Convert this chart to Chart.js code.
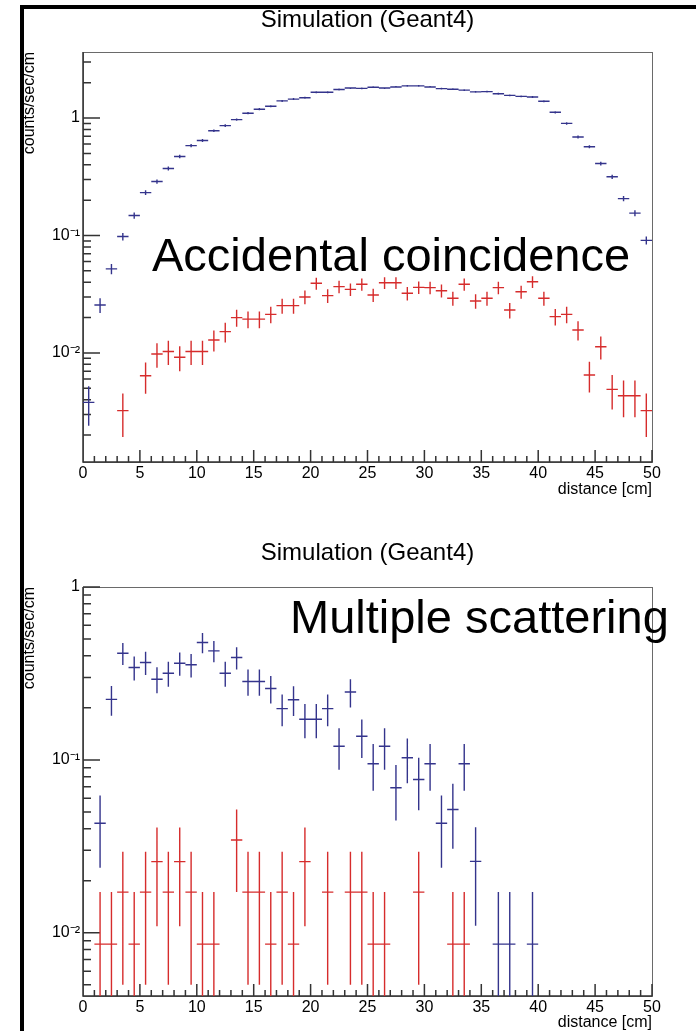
<!DOCTYPE html>
<html>
<head>
<meta charset="utf-8">
<title>Simulation (Geant4)</title>
<script src="https://cdn.jsdelivr.net/npm/chart.js@4.4.1/dist/chart.umd.min.js"></script>
<style>
  html, body { margin: 0; padding: 0; background: #fff; overflow: hidden; }
  #frame { position: absolute; left: 20px; top: 5px; width: 700px; height: 1100px;
           border-left: 4px solid #000; border-top: 4px solid #000; }
  canvas { position: absolute; left: 0; }
  #topChart { top: 0; }
  #bottomChart { top: 500px; }
</style>
</head>
<body>
<div id="frame"></div>
<canvas id="topChart" width="696" height="500"></canvas>
<canvas id="bottomChart" width="696" height="531"></canvas>
<script>
Chart.defaults.font.family = '"Liberation Sans", Arial, Helvetica, sans-serif';
Chart.defaults.color = '#000';

// bin centres (1 cm bins from 0 to 50 cm)
var binCenters = [0.5, 1.5, 2.5, 3.5, 4.5, 5.5, 6.5, 7.5, 8.5, 9.5,
  10.5, 11.5, 12.5, 13.5, 14.5, 15.5, 16.5, 17.5, 18.5, 19.5,
  20.5, 21.5, 22.5, 23.5, 24.5, 25.5, 26.5, 27.5, 28.5, 29.5,
  30.5, 31.5, 32.5, 33.5, 34.5, 35.5, 36.5, 37.5, 38.5, 39.5,
  40.5, 41.5, 42.5, 43.5, 44.5, 45.5, 46.5, 47.5, 48.5, 49.5];
var binWidth = 1;
var xTicks = [0, 5, 10, 15, 20, 25, 30, 35, 40, 45, 50];

// top panel: accidental coincidence
var accBlue = [0.0038, 0.0256, 0.052, 0.098, 0.148, 0.232, 0.288, 0.372, 0.47, 0.583,
  0.644, 0.78, 0.862, 0.97, 1.10, 1.19, 1.26, 1.40, 1.45, 1.49,
  1.66, 1.66, 1.75, 1.80, 1.79, 1.83, 1.80, 1.84, 1.88, 1.88,
  1.84, 1.78, 1.76, 1.73, 1.67, 1.68, 1.61, 1.56, 1.53, 1.51,
  1.39, 1.12, 0.90, 0.69, 0.57, 0.41, 0.316, 0.206, 0.155, 0.091];
var accBlueErr = [0.0014, 0.0037, 0.0053, 0.0073, 0.0089, 0.0112, 0.0125, 0.0142, 0.0159, 0.0177,
  0.0186, 0.0205, 0.0216, 0.0229, 0.0244, 0.0253, 0.0261, 0.0275, 0.028, 0.0284,
  0.030, 0.030, 0.0307, 0.0312, 0.0311, 0.0314, 0.0312, 0.0315, 0.0319, 0.0319,
  0.0315, 0.031, 0.0308, 0.0306, 0.030, 0.0301, 0.0295, 0.029, 0.0287, 0.0286,
  0.0274, 0.0246, 0.022, 0.0193, 0.0175, 0.0149, 0.0131, 0.0105, 0.0092, 0.007];
var accRed = [null, null, null, 0.00323, null, 0.0064, 0.0098, 0.0103, 0.0092, 0.0103,
  0.0103, 0.0129, 0.0152, 0.020, 0.0194, 0.0194, 0.0213, 0.0253, 0.0253, 0.030,
  0.0392, 0.0308, 0.0367, 0.0348, 0.0385, 0.0312, 0.0396, 0.0396, 0.0322, 0.0362,
  0.036, 0.0339, 0.0292, 0.0385, 0.0277, 0.0292, 0.036, 0.0232, 0.0332, 0.0404,
  0.0292, 0.0204, 0.0213, 0.0157, 0.0065, 0.0113, 0.0049, 0.00433, 0.00433, 0.00323];
var accRedErr = [null, null, null, 0.0013, null, 0.0019, 0.0023, 0.0024, 0.0022, 0.0024,
  0.0024, 0.0026, 0.0029, 0.0033, 0.0032, 0.0032, 0.0034, 0.0037, 0.0037, 0.004,
  0.0046, 0.0041, 0.0045, 0.0043, 0.0046, 0.0041, 0.0046, 0.0046, 0.0042, 0.0044,
  0.0044, 0.0043, 0.004, 0.0046, 0.0039, 0.004, 0.0044, 0.0035, 0.0042, 0.0047,
  0.004, 0.0033, 0.0034, 0.0029, 0.0019, 0.0025, 0.0016, 0.0015, 0.0015, 0.0013];

// bottom panel: multiple scattering
var msBlue = [null, 0.043, 0.224, 0.414, 0.342, 0.366, 0.293, 0.317, 0.362, 0.355,
  0.478, 0.427, 0.317, 0.391, 0.284, 0.284, 0.259, 0.198, 0.223, 0.172,
  0.172, 0.198, 0.120, 0.247, 0.137, 0.095, 0.120, 0.069, 0.103, 0.077,
  0.095, 0.043, 0.0517, 0.095, 0.0259, null, 0.0086, 0.0086, null, 0.0086,
  null, null, null, null, null, null, null, null, null, null];
var msBlueErr = [null, 0.0192, 0.0439, 0.0596, 0.0544, 0.0564, 0.0501, 0.0523, 0.0557, 0.0551,
  0.0643, 0.0604, 0.0523, 0.0577, 0.0494, 0.0494, 0.0471, 0.0412, 0.0438, 0.0385,
  0.0385, 0.0412, 0.0322, 0.0461, 0.0343, 0.0286, 0.0322, 0.0244, 0.0298, 0.0258,
  0.0286, 0.0192, 0.0211, 0.0286, 0.0149, null, 0.0086, 0.0086, null, 0.0086,
  null, null, null, null, null, null, null, null, null, null];
var msRed = [null, 0.0086, 0.0086, 0.0172, 0.0086, 0.0172, 0.0258, 0.0172, 0.0258, 0.0172,
  0.0086, 0.0086, null, 0.0344, 0.0172, 0.0172, 0.0086, 0.0172, 0.0086, 0.0258,
  null, 0.0172, null, 0.0172, 0.0172, 0.0086, 0.0086, null, null, 0.0172,
  null, null, 0.0086, 0.0086, null, null, null, null, null, null,
  null, null, null, null, null, null, null, null, null, null];
var msRedErr = [null, 0.0086, 0.0086, 0.0122, 0.0086, 0.0122, 0.0149, 0.0122, 0.0149, 0.0122,
  0.0086, 0.0086, null, 0.0172, 0.0122, 0.0122, 0.0086, 0.0122, 0.0086, 0.0149,
  null, 0.0122, null, 0.0122, 0.0122, 0.0086, 0.0086, null, null, 0.0122,
  null, null, 0.0086, 0.0086, null, null, null, null, null, null,
  null, null, null, null, null, null, null, null, null, null];

var yTicks = [0.01, 0.1, 1];
var yTickLabels = ['10\u207B\u00B2', '10\u207B\u00B9', '1'];

var blueColor = '#34348c';
var redColor = '#d62c2c';

function points(values, errors) {
  var out = [];
  binCenters.forEach(function (x, i) {
    if (values[i] != null) out.push({ x: x, y: values[i], err: errors[i] });
  });
  return out;
}

// ROOT style frame with inward ticks
var framePlugin = {
  id: 'rootFrame',
  beforeDatasetsDraw: function (chart) {
    var ctx = chart.ctx, a = chart.chartArea, xs = chart.scales.x, ys = chart.scales.y;
    ctx.save();
    ctx.strokeStyle = '#6a6a6a';
    ctx.lineWidth = 1;
    ctx.strokeRect(Math.round(a.left) + 0.5, Math.round(a.top) + 0.5, a.right - a.left, a.bottom - a.top);
    ctx.strokeStyle = '#333';
    ctx.lineWidth = 1.5;
    ctx.beginPath();
    ctx.moveTo(a.left, a.top); ctx.lineTo(a.left, a.bottom); ctx.lineTo(a.right, a.bottom);
    for (var v = xs.min; v <= xs.max; v += 1) {
      var px = xs.getPixelForValue(v);
      var len = v % 5 === 0 ? 12 : 6;
      ctx.moveTo(px, a.bottom); ctx.lineTo(px, a.bottom - len);
    }
    var d0 = Math.floor(Math.log10(ys.min)), d1 = Math.ceil(Math.log10(ys.max));
    for (var d = d0; d <= d1; d++) {
      for (var m = 1; m < 10; m++) {
        var val = m * Math.pow(10, d);
        if (val < ys.min || val > ys.max * 1.0001) continue;
        var py = ys.getPixelForValue(val);
        ctx.moveTo(a.left, py); ctx.lineTo(a.left + (m === 1 ? 17 : 8), py);
      }
    }
    ctx.stroke();
    ctx.restore();
  }
};

// histogram points drawn as error crosses
var crossPlugin = {
  id: 'errorCrosses',
  afterDatasetsDraw: function (chart) {
    var ctx = chart.ctx, a = chart.chartArea, xs = chart.scales.x, ys = chart.scales.y;
    ctx.save();
    ctx.beginPath();
    ctx.rect(a.left, a.top, a.right - a.left, a.bottom - a.top);
    ctx.clip();
    chart.data.datasets.forEach(function (ds) {
      ctx.strokeStyle = ds.borderColor;
      ctx.lineWidth = 1.4;
      ctx.beginPath();
      ds.data.forEach(function (p) {
        var y = ys.getPixelForValue(p.y);
        var lo = p.y - p.err;
        var yLo = lo > ys.min ? ys.getPixelForValue(lo) : a.bottom;
        var yHi = ys.getPixelForValue(p.y + p.err);
        var xc = xs.getPixelForValue(p.x);
        ctx.moveTo(xs.getPixelForValue(p.x - binWidth / 2), y);
        ctx.lineTo(xs.getPixelForValue(p.x + binWidth / 2), y);
        ctx.moveTo(xc, yHi);
        ctx.lineTo(xc, yLo);
      });
      ctx.stroke();
    });
    ctx.restore();
  }
};

var labelPlugin = {
  id: 'bigLabel',
  afterDraw: function (chart, args, opts) {
    var ctx = chart.ctx;
    ctx.save();
    ctx.font = '47px "Liberation Sans", Arial, sans-serif';
    ctx.fillStyle = '#000';
    ctx.textBaseline = 'alphabetic';
    ctx.fillText(opts.text, opts.x, opts.y);
    ctx.restore();
  }
};

function makeChart(id, cfg) {
  return new Chart(document.getElementById(id), {
    type: 'scatter',
    data: {
      datasets: [
        { label: 'blue', data: points(cfg.blue, cfg.blueErr), borderColor: blueColor, pointRadius: 0, showLine: false },
        { label: 'red', data: points(cfg.red, cfg.redErr), borderColor: redColor, pointRadius: 0, showLine: false }
      ]
    },
    options: {
      responsive: false,
      animation: false,
      events: [],
      layout: { padding: { left: 0, right: 44, top: 0, bottom: 0 } },
      plugins: {
        legend: { display: false },
        tooltip: { enabled: false },
        title: {
          display: true,
          fullSize: false,
          text: 'Simulation (Geant4)',
          color: '#000',
          font: { size: 24, weight: 'normal', lineHeight: 1.2 },
          padding: cfg.titlePadding
        },
        bigLabel: cfg.label
      },
      scales: {
        x: {
          type: 'linear',
          min: 0,
          max: 50,
          afterBuildTicks: function (s) { s.ticks = xTicks.map(function (v) { return { value: v }; }); },
          afterFit: function (s) { s.height = cfg.xHeight; },
          grid: { display: false, drawTicks: false },
          border: { display: false },
          ticks: { font: { size: 16 }, padding: 2, maxRotation: 0, autoSkip: false, color: '#000' },
          title: { display: true, text: 'distance [cm]', align: 'end', color: '#000',
                   font: { size: 16, lineHeight: 1 }, padding: { top: 0, bottom: cfg.xTitlePad } }
        },
        y: {
          type: 'logarithmic',
          min: cfg.yMin,
          max: cfg.yMax,
          afterBuildTicks: function (s) { s.ticks = yTicks.map(function (v) { return { value: v }; }); },
          afterFit: function (s) { s.width = 83; },
          grid: { display: false, drawTicks: false },
          border: { display: false },
          ticks: {
            font: { size: 16 }, padding: 3, autoSkip: false, color: '#000',
            callback: function (value) { return yTickLabels[yTicks.indexOf(value)]; }
          },
          title: { display: true, text: 'counts/sec/cm', align: 'end', color: '#000',
                   font: { size: 16, lineHeight: 1.2 }, padding: { top: 20, bottom: 0 } }
        }
      }
    },
    plugins: [framePlugin, crossPlugin, labelPlugin]
  });
}

makeChart('topChart', {
  blue: accBlue, blueErr: accBlueErr, red: accRed, redErr: accRedErr,
  yMin: 0.00118, yMax: 3.65,
  titlePadding: { top: 6.4, bottom: 16.8 },
  xHeight: 38, xTitlePad: 2,
  label: { text: 'Accidental coincidence', x: 152, y: 271 }
});

makeChart('bottomChart', {
  blue: msBlue, blueErr: msBlueErr, red: msRed, redErr: msRedErr,
  yMin: 0.00431, yMax: 1.0,
  titlePadding: { top: 39.4, bottom: 18.8 },
  xHeight: 35, xTitlePad: 0,
  label: { text: 'Multiple scattering', x: 290, y: 133 }
});
</script>
</body>
</html>
